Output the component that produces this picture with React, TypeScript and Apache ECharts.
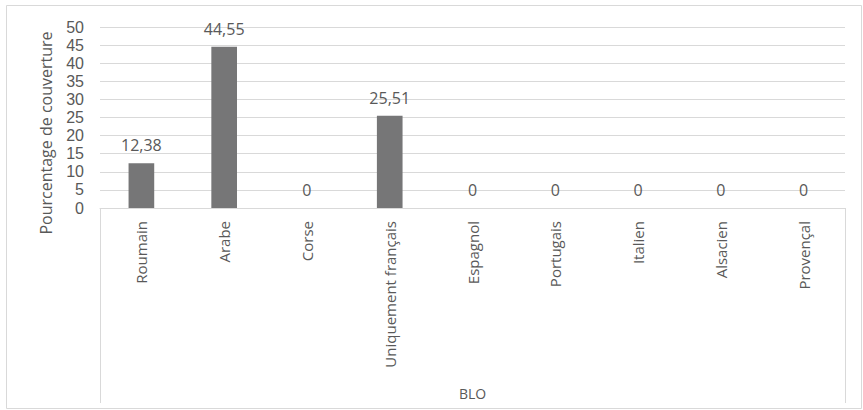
import React, { useEffect, useRef } from "react";
import * as echarts from "echarts";

const categories = [
  "Roumain",
  "Arabe",
  "Corse",
  "Uniquement français",
  "Espagnol",
  "Portugais",
  "Italien",
  "Alsacien",
  "Provençal",
];
const coverage = [12.38, 44.55, 0, 25.51, 0, 0, 0, 0, 0];
const groupLabel = "BLO";
const yAxisTitle = "Pourcentage de couverture";

const W = 863;
const H = 410;
const FONT = "'Open Sans', 'Liberation Sans', sans-serif";
const TICK_FONT = "'Liberation Sans', Arial, sans-serif";
const TEXT = "#595959";
const GRID = "#d9d9d9";

const fmt = (v: number) => (v === 0 ? "0" : v.toFixed(2).replace(".", ","));

export default function App() {
  const ref = useRef<HTMLDivElement>(null);

  useEffect(() => {
    if (!ref.current) return;
    const chart = echarts.init(ref.current, null, { renderer: "svg", width: W, height: H });
    const left = 100;
    const right = 18;
    const top = 27;
    const bottom = 202;
    const axisY = H - bottom;
    chart.setOption({
      animation: false,
      backgroundColor: "#ffffff",
      textStyle: { fontFamily: FONT },
      grid: { left, right, top, bottom, containLabel: false },
      xAxis: {
        type: "category",
        data: categories,
        name: groupLabel,
        nameLocation: "middle",
        nameGap: 178,
        nameTextStyle: { color: TEXT, fontSize: 14, fontFamily: FONT },
        axisLine: { show: true, lineStyle: { color: GRID, width: 1 } },
        axisTick: { show: false },
        axisLabel: {
          rotate: 90,
          interval: 0,
          margin: 13,
          color: TEXT,
          fontSize: 15,
          fontFamily: FONT,
        },
      },
      yAxis: {
        type: "value",
        min: 0,
        max: 50,
        interval: 5,
        axisLine: { show: false },
        axisTick: { show: false },
        axisLabel: {
          color: TEXT,
          fontSize: 16,
          lineHeight: 16,
          margin: 16,
          fontFamily: TICK_FONT,
        },
        splitLine: { lineStyle: { color: GRID, width: 1 } },
      },
      series: [
        {
          type: "bar",
          data: coverage,
          barWidth: "31%",
          itemStyle: { color: "#767677" },
          label: {
            show: true,
            position: "top",
            distance: 10,
            color: TEXT,
            fontSize: 16,
            fontFamily: FONT,
            formatter: (p: any) => fmt(p.value),
          },
        },
      ],
      graphic: [
        {
          type: "rect",
          shape: { x: 6.5, y: 5.5, width: 855, height: 403 },
          style: { fill: "none", stroke: GRID, lineWidth: 1 },
          silent: true,
        },
        {
          type: "line",
          shape: { x1: left + 0.5, y1: axisY, x2: left + 0.5, y2: 403 },
          style: { stroke: GRID, lineWidth: 1 },
          silent: true,
        },
        {
          type: "line",
          shape: { x1: W - right + 0.5, y1: axisY, x2: W - right + 0.5, y2: 403 },
          style: { stroke: GRID, lineWidth: 1 },
          silent: true,
        },
        {
          type: "text",
          x: 46,
          y: 133,
          rotation: Math.PI / 2,
          style: {
            text: yAxisTitle,
            fill: TEXT,
            font: `16px ${FONT}`,
            align: "center",
            verticalAlign: "middle",
          },
          silent: true,
        },
      ],
    });
    return () => chart.dispose();
  }, []);

  return (
    <div
      ref={ref}
      style={{ position: "fixed", left: 0, top: 0, width: W, height: H, background: "#fff" }}
    />
  );
}
